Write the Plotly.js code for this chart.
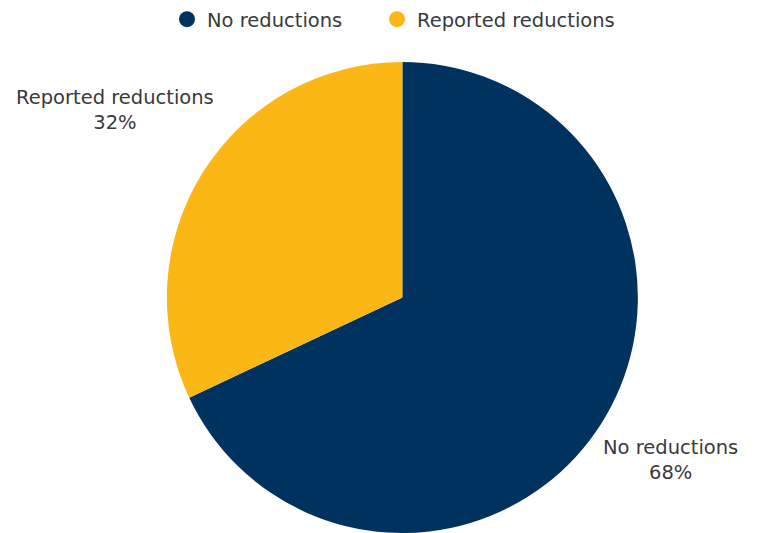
<!DOCTYPE html>
<html><head><meta charset="utf-8">
<script src="https://cdn.plot.ly/plotly-3.0.1.min.js"></script>
<style>html,body{margin:0;padding:0;background:#fff}#chart{width:757px;height:533px}</style>
</head><body><div id="chart"></div>
<script>
const categories = ["No reductions", "Reported reductions"];
const shares = [68, 32];
const colors = ["#00325F", "#FBB715"];

const font = {family: "DejaVu Sans, Noto Sans, sans-serif", size: 19.5, color: "#3a3a3a"};

const traces = [{
  type: "pie",
  labels: categories,
  values: shares,
  marker: {colors: colors},
  sort: false,
  direction: "clockwise",
  rotation: 0,
  textinfo: "none",
  hoverinfo: "label+percent",
  showlegend: false,
  domain: {x: [0.2195, 0.8435], y: [0, 0.8837]}
}];
const legendIds = ["legend", "legend2"];
categories.forEach((c, i) => {
  traces.push({type: "scatter", mode: "markers", x: [null], y: [null], name: c,
    legend: legendIds[i],
    marker: {color: colors[i], size: 20, symbol: "circle"}, showlegend: true, hoverinfo: "skip"});
});

const labelPos = [{x: 670 / 757, y: 1 - 460 / 533}, {x: 115 / 757, y: 1 - 110 / 533}];
const annotations = categories.map((c, i) => ({
  xref: "paper", yref: "paper", x: labelPos[i].x, y: labelPos[i].y,
  text: c + "<br>" + shares[i] + "%", showarrow: false, font: font,
  xanchor: "center", yanchor: "middle", align: "center"
}));

const legBase = {orientation: "h", xanchor: "left", y: 1.0, yanchor: "top", font: font, itemwidth: 30,
  bgcolor: "rgba(0,0,0,0)"};
const layout = {
  width: 757, height: 533,
  margin: {l: 0, r: 0, t: 0, b: 0},
  paper_bgcolor: "#fff", plot_bgcolor: "#fff",
  font: font,
  showlegend: true,
  legend: Object.assign({}, legBase, {x: 167 / 757}),
  legend2: Object.assign({}, legBase, {x: 377 / 757}),
  xaxis: {visible: false}, yaxis: {visible: false},
  annotations: annotations
};
Plotly.newPlot("chart", traces, layout, {displayModeBar: false, staticPlot: true});
</script></body></html>
